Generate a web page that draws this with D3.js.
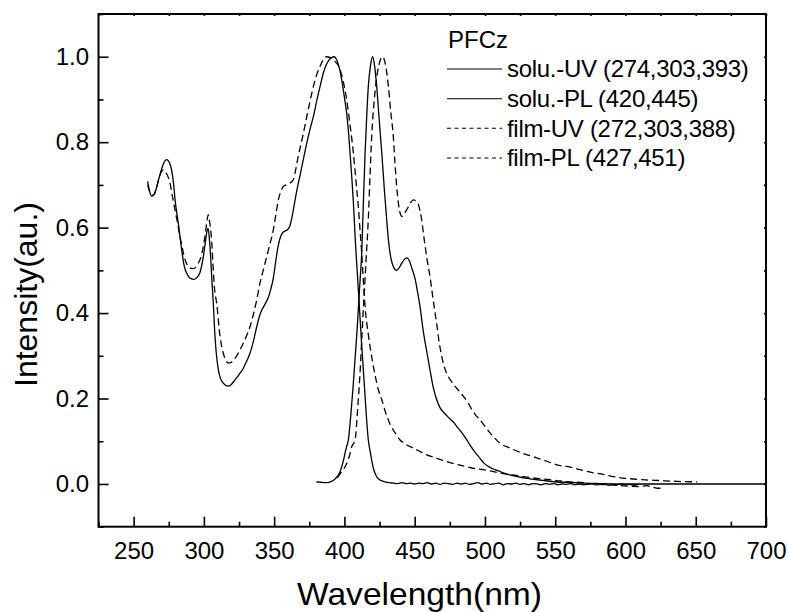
<!DOCTYPE html>
<html>
<head>
<meta charset="utf-8">
<script src="https://cdn.jsdelivr.net/npm/d3@7/dist/d3.min.js"></script>
<style>
  html, body { margin: 0; padding: 0; background: #fff; }
  svg { display: block; }
  text { font-family: "Liberation Sans", Arial, Helvetica, sans-serif; fill: #000; }
</style>
</head>
<body>
<svg id="chart" width="789" height="612"></svg>
<script>
// Absorption (UV) and photoluminescence (PL) spectra of PFCz, solution and film.
// Each series: [wavelength (nm), normalised intensity]

const solutionUV = [
  [260,0.708],[261,0.69],[263,0.673],[265,0.68],[268,0.715],[271,0.748],[273.5,0.759],[275.5,0.752],
  [277,0.735],[278.5,0.70],[279.5,0.665],[281.8,0.61],[284.2,0.548],[286,0.51],[287.8,0.493],[290,0.482],
  [292.5,0.479],[295,0.483],[297.2,0.495],[299.6,0.532],[301,0.565],[302.2,0.592],[303,0.598],[304,0.57],
  [305,0.52],[305.8,0.47],[306.7,0.423],[307.9,0.345],[309,0.30],[310.3,0.267],[312,0.245],[313.8,0.236],
  [316,0.23],[317.4,0.229],[319.5,0.233],[322.2,0.244],[325,0.256],[328.1,0.271],[330.5,0.288],[332.8,0.306],
  [335.3,0.335],[337.6,0.368],[339.5,0.392],[341.2,0.407],[343.5,0.421],[345.9,0.437],[347.6,0.456],[349.4,0.482],
  [351.3,0.525],[352.8,0.556],[354.2,0.575],[355.8,0.587],[357.7,0.592],[359.5,0.595],[361.3,0.605],[363,0.63],
  [364.9,0.665],[366.6,0.695],[368.4,0.722],[370.8,0.76],[373,0.795],[375.5,0.83],[377.9,0.86],[380.5,0.9],
  [383,0.935],[385,0.962],[387.5,0.984],[390,0.996],[392.6,1.0],[394.5,0.993],[396.5,0.972],[398.1,0.946],
  [400,0.905],[401.6,0.868],[403,0.82],[404,0.774],[405.3,0.715],[406.4,0.657],[407.6,0.58],[408.3,0.54],
  [410,0.45],[412,0.34],[414,0.24],[415.5,0.165],[417,0.103],[418.2,0.078],[419.4,0.056],[420.5,0.038],
  [421.8,0.025],[423.5,0.014],[425.5,0.009],[428.9,0.005],[432,0.003],
  // detector noise along the baseline
  [435,0.002],[438,0.001],[441,0.003],[444,0.001],[447,0.002],[450,0.000],[453,0.002],[456,0.001],
  [459,0.003],[462,0.000],[465,0.002],[468,-0.001],[471,0.002],[474,0.001],[477,-0.001],[480,0.002],
  [483,0.000],[486,0.002],[489,-0.001],[492,0.001],[495,0.003],[498,0.000],[501,0.002],[504,-0.001],
  [507,0.001],[510,0.002],[513,-0.002],[516,0.001],[519,0.000],[522,0.002],[525,-0.001],[528,0.001],
  [531,-0.002],[534,0.001],[537,0.000],[540,-0.002],[543,0.001],[546,-0.001],[549,0.001],[552,-0.002],
  [555,0.000],[558,-0.001],[561,0.001],[564,-0.002],[567,0.000],[570,-0.002],[573,-0.001],[576,0.001],
  [579,-0.002],[582,-0.001],[585,0.000],[588,-0.003],[591,-0.001],[594,-0.002],[597,0.000],[600,-0.002],
  [603,-0.001],[606,-0.003],[609,-0.001]
];

const solutionPL = [
  [380,0.005],[383,0.004],[386,0.003],[388,0.003],[390,0.005],[392,0.008],[394,0.014],[395.7,0.021],
  [397,0.03],[398.1,0.041],[399.3,0.055],[400.4,0.072],[401.6,0.088],[402.8,0.103],[404.5,0.16],[406,0.22],
  [407.5,0.29],[409,0.36],[410,0.415],[411.2,0.48],[412.3,0.54],[413.5,0.66],[414.7,0.774],[416,0.87],
  [417,0.93],[418.5,0.978],[420.1,1.0],[421.5,0.978],[423,0.93],[424.8,0.85],[426.6,0.774],[428.4,0.69],
  [430.1,0.618],[431.3,0.571],[433,0.53],[434.8,0.509],[436,0.502],[437.2,0.50],[438.8,0.505],[440.5,0.515],
  [442.5,0.525],[444.4,0.529],[446.5,0.52],[448,0.505],[450.3,0.48],[452,0.45],[453.8,0.415],[456,0.36],
  [458.6,0.31],[461,0.265],[463.3,0.225],[465.7,0.197],[468.1,0.178],[470.5,0.168],[472.8,0.16],[475.2,0.152],
  [477.5,0.145],[479.9,0.135],[483.5,0.12],[487.1,0.103],[490,0.088],[493,0.074],[496.5,0.06],[498.9,0.05],
  [502,0.042],[506,0.035],[510.8,0.029],[517,0.022],[523,0.017],[529.8,0.013],[534.5,0.011],[545,0.007],
  [553.5,0.004],[558.2,0.004],[570,0.002],[581.9,0.001],[600,0.0],[620,0.0],[650,0.0],[700,0.0]
];

const filmUV = [
  [260,0.70],[262,0.68],[264,0.676],[266,0.69],[268,0.715],[270,0.732],[271.5,0.735],[273.5,0.726],
  [275.9,0.704],[277.5,0.675],[279.4,0.642],[281,0.615],[283,0.579],[284.8,0.55],[286.6,0.525],[288.3,0.512],
  [290.1,0.505],[292.5,0.504],[296,0.517],[298,0.532],[299.6,0.556],[301.2,0.59],[302.3,0.618],[303.1,0.63],
  [304,0.615],[305,0.59],[305.6,0.565],[306.7,0.50],[307.5,0.46],[309.1,0.423],[311.5,0.345],[313.8,0.306],
  [315.5,0.29],[317.4,0.283],[319.5,0.285],[322.2,0.294],[325,0.31],[328.1,0.33],[330.5,0.348],[332.8,0.368],
  [335.3,0.398],[337.6,0.431],[339.9,0.47],[342.3,0.501],[345.9,0.548],[349.4,0.595],[351.3,0.632],[353,0.665],
  [354.8,0.685],[356.5,0.696],[358.5,0.70],[360,0.702],[362,0.706],[363.6,0.712],[365.3,0.735],[367,0.765],
  [368.9,0.793],[370.8,0.821],[372.6,0.85],[374.5,0.88],[376.2,0.906],[377.9,0.93],[380.5,0.96],[382.6,0.977],
  [385,0.993],[387.4,1.0],[390,0.998],[393,0.99],[396.9,0.97],[399.3,0.94],[401.6,0.90],[404,0.84],
  [406.4,0.774],[408.2,0.71],[409.9,0.649],[411.2,0.59],[412.3,0.54],[413.5,0.475],[414.7,0.415],[417,0.35],
  [419.4,0.298],[421.8,0.255],[424.2,0.22],[426.6,0.197],[429.5,0.165],[432.5,0.14],[436,0.12],[439.6,0.103],
  [444,0.092],[449,0.084],[455,0.074],[458.6,0.068],[463.3,0.063],[470,0.055],[477.5,0.048],[482.3,0.044],
  [490,0.038],[501.3,0.032],[506,0.029],[515,0.023],[522.6,0.02],[529.8,0.016],[537,0.013],[546.3,0.010],
  [553.5,0.007],[560,0.005],[570,0.003],[577.2,0.0],[590,-0.002],[600.9,-0.005],[610,-0.006],[615,-0.004],
  [619.7,-0.008],[623,-0.01],[627,-0.01]
];

const filmPL = [
  [395,0.015],[398.1,0.029],[400,0.038],[401.6,0.048],[403.5,0.065],[405.2,0.087],[407.6,0.103],[409.5,0.18],
  [411.1,0.259],[412.5,0.35],[414,0.44],[415.5,0.53],[417,0.62],[418.2,0.72],[419.5,0.82],[421,0.89],
  [422.5,0.94],[424.5,0.98],[427,1.0],[429,0.985],[431.3,0.93],[433,0.87],[434.8,0.813],[436,0.75],
  [437.2,0.696],[438.5,0.655],[440,0.63],[441,0.626],[442.5,0.632],[444.4,0.642],[447,0.658],[449,0.665],
  [451,0.662],[452.6,0.655],[454,0.635],[455,0.618],[456.2,0.587],[458.6,0.53],[460.9,0.485],[463.2,0.43],
  [465.6,0.376],[467.5,0.33],[469.3,0.298],[471.5,0.27],[474,0.251],[477,0.236],[479.9,0.224],[483,0.212],
  [485.9,0.2],[488,0.19],[490,0.178],[493,0.163],[496.5,0.15],[500,0.135],[503,0.122],[506,0.111],
  [510.8,0.095],[517.9,0.084],[525,0.074],[534.5,0.064],[545,0.052],[553.5,0.043],[558.2,0.041],[566,0.035],
  [577.2,0.026],[581.9,0.024],[590,0.018],[600.9,0.013],[612,0.01],[624.6,0.008],[637,0.006],[651,0.005]
];

const seriesNames = ["solu.-UV (274,303,393)", "solu.-PL (420,445)", "film-UV (272,303,388)", "film-PL (427,451)"];
const seriesData = [solutionUV, solutionPL, filmUV, filmPL];
const seriesDash = [null, null, "7,4", "7,4"];
const legendTitle = "PFCz";

const xMajorTicks = [250, 300, 350, 400, 450, 500, 550, 600, 650, 700];
const xMinorTicks = [225, 275, 325, 375, 425, 475, 525, 575, 625, 675];
const yMajorTicks = [0.0, 0.2, 0.4, 0.6, 0.8, 1.0];
const yMinorTicks = [-0.1, 0.1, 0.3, 0.5, 0.7, 0.9, 1.1];
const xTitle = "Wavelength(nm)";
const yTitle = "Intensity(au.)";

const svg = d3.select("#chart");
const plot = { left: 98.5, right: 766, top: 14, bottom: 526.7 };

const x = d3.scaleLinear().domain([225, 700]).range([plot.left, plot.right]);
const y = d3.scaleLinear().domain([-0.1, 1.1]).range([plot.bottom, plot.top]);

const fmtY = d3.format(".1f");

// bottom axis: inward ticks, labels below
const gx = svg.append("g").attr("transform", `translate(0,${plot.bottom})`);
gx.call(d3.axisBottom(x).tickValues(xMajorTicks).tickSize(-10).tickPadding(15).tickFormat(d3.format("d")));
gx.append("g").call(d3.axisBottom(x).tickValues(xMinorTicks).tickSize(-5).tickFormat(""));

// left axis
const gy = svg.append("g").attr("transform", `translate(${plot.left},0)`);
gy.call(d3.axisLeft(y).tickValues(yMajorTicks).tickSize(-10).tickPadding(9.5).tickFormat(fmtY));
gy.append("g").call(d3.axisLeft(y).tickValues(yMinorTicks).tickSize(-5).tickFormat(""));

// top and right axes: small inward ticks only
const gt = svg.append("g").attr("transform", `translate(0,${plot.top})`);
gt.call(d3.axisTop(x).tickValues(xMajorTicks.concat(xMinorTicks)).tickSize(-2).tickFormat(""));
const gr = svg.append("g").attr("transform", `translate(${plot.right},0)`);
gr.call(d3.axisRight(y).tickValues(yMajorTicks.concat(yMinorTicks)).tickSize(-2).tickFormat(""));

svg.selectAll(".domain").remove();
svg.selectAll(".tick line").attr("stroke", "#000").attr("stroke-width", 1.6);
svg.selectAll(".tick text").attr("font-size", 24).attr("font-family", "Liberation Sans, Arial, sans-serif").attr("fill", "#000");

// frame
svg.append("rect")
  .attr("x", plot.left).attr("y", plot.top)
  .attr("width", plot.right - plot.left).attr("height", plot.bottom - plot.top)
  .attr("fill", "none").attr("stroke", "#000").attr("stroke-width", 2);

// spectra
const line = d3.line().x(d => x(d[0])).y(d => y(d[1])).curve(d3.curveMonotoneX);
svg.append("g").selectAll("path")
  .data(seriesData)
  .join("path")
  .attr("d", d => line(d))
  .attr("fill", "none")
  .attr("stroke", "#000")
  .attr("stroke-width", 1.3)
  .attr("stroke-dasharray", (d, i) => seriesDash[i]);

// axis titles
svg.append("text")
  .attr("x", 297).attr("y", 605)
  .attr("font-size", 32)
  .attr("textLength", 245).attr("lengthAdjust", "spacingAndGlyphs")
  .text(xTitle);
svg.append("text")
  .attr("transform", "translate(37,387) rotate(-90)")
  .attr("font-size", 32)
  .text(yTitle);

// legend
const legend = svg.append("g");
legend.append("text").attr("x", 448).attr("y", 48).attr("font-size", 24).text(legendTitle);
const rowY = [69, 98.7, 128.3, 158];
seriesNames.forEach((name, i) => {
  legend.append("line")
    .attr("x1", 447).attr("x2", 502).attr("y1", rowY[i]).attr("y2", rowY[i])
    .attr("stroke", "#000").attr("stroke-width", 1.1)
    .attr("stroke-dasharray", seriesDash[i] ? "4,3.5" : null);
  legend.append("text")
    .attr("x", 507).attr("y", rowY[i]).attr("dy", "0.35em")
    .attr("font-size", 24).attr("letter-spacing", -0.3)
    .text(name);
});
</script>
</body>
</html>
